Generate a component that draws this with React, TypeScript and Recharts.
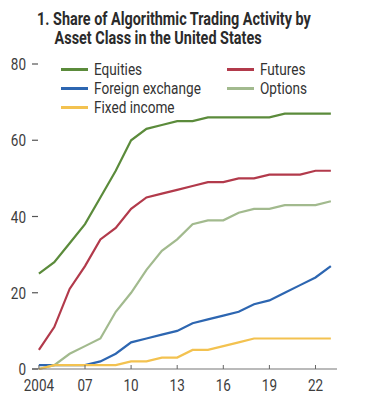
import { LineChart, Line, XAxis, YAxis } from "recharts"

const years = [2004, 2005, 2006, 2007, 2008, 2009, 2010, 2011, 2012, 2013, 2014, 2015, 2016, 2017, 2018, 2019, 2020, 2021, 2022, 2023]
const equities = [25, 28, 33, 38, 45, 52, 60, 63, 64, 65, 65, 66, 66, 66, 66, 66, 67, 67, 67, 67]
const futures = [5, 11, 21, 27, 34, 37, 42, 45, 46, 47, 48, 49, 49, 50, 50, 51, 51, 51, 52, 52]
const foreignExchange = [1, 1, 1, 1, 2, 4, 7, 8, 9, 10, 12, 13, 14, 15, 17, 18, 20, 22, 24, 27]
const options = [0, 1, 4, 6, 8, 15, 20, 26, 31, 34, 38, 39, 39, 41, 42, 42, 43, 43, 43, 44]
const fixedIncome = [0, 1, 1, 1, 1, 1, 2, 2, 3, 3, 5, 5, 6, 7, 8, 8, 8, 8, 8, 8]

const xTicks = [2004, 2007, 2010, 2013, 2016, 2019, 2022]
const yTicks = [0, 20, 40, 60, 80]

const FONT = "Roboto, 'Noto Sans', sans-serif"
const SQUEEZE = 0.82

const series = [
  { key: "equities", name: "Equities", color: "#5b8b3b" },
  { key: "futures", name: "Futures", color: "#b23a4b" },
  { key: "fx", name: "Foreign exchange", color: "#2d66b1" },
  { key: "options", name: "Options", color: "#a2ba8e" },
  { key: "fixed", name: "Fixed income", color: "#f3c250" },
]

const data = years.map((y, i) => ({
  year: y,
  equities: equities[i],
  futures: futures[i],
  fx: foreignExchange[i],
  options: options[i],
  fixed: fixedIncome[i],
}))

function xLabel(v: number) {
  return v === 2004 ? "2004" : String(v % 100).padStart(2, "0")
}

function XTick(props: any) {
  const { x, y, payload } = props
  return (
    <g>
      <line x1={x} x2={x} y1={y} y2={y - 4} stroke="#666" strokeWidth={1} />
      <text
        transform={`translate(${x},${y + 22}) scale(${SQUEEZE},1)`}
        textAnchor="middle"
        fill="#3d3d3d"
        fontSize={16.5}
        fontFamily={FONT}
      >
        {xLabel(payload.value)}
      </text>
    </g>
  )
}

function LeftTick(props: any) {
  const { x, y, payload } = props
  return (
    <g>
      <text
        transform={`translate(${x - 6},${y + 6}) scale(${SQUEEZE},1)`}
        textAnchor="end"
        fill="#3d3d3d"
        fontSize={16.5}
        fontFamily={FONT}
      >
        {payload.value}
      </text>
      <line x1={x} x2={x + 6} y1={y} y2={y} stroke="#555" strokeWidth={1.2} />
    </g>
  )
}

function RightTick(props: any) {
  const { x, y } = props
  return (
    <g>
      <line x1={x - 6} x2={x} y1={y} y2={y} stroke="#555" strokeWidth={1.2} />
      <line x1={x + 32} x2={x + 37} y1={y} y2={y} stroke="#777" strokeWidth={1.2} />
    </g>
  )
}

function LegendItem({ s, left, top }: { s: (typeof series)[number]; left: number; top: number }) {
  return (
    <div style={{ position: "absolute", left, top, height: 19, display: "flex", alignItems: "center" }}>
      <div style={{ width: 27, height: 2.5, background: s.color }} />
      <div
        style={{
          marginLeft: 6,
          transform: "scaleX(0.85)",
          transformOrigin: "left center",
          whiteSpace: "nowrap",
        }}
      >
        {s.name}
      </div>
    </div>
  )
}

export default function App() {
  return (
    <div style={{ position: "absolute", left: 0, top: 0, width: 375, height: 410, background: "#fff" }}>
      <div
        style={{
          position: "absolute",
          left: 37,
          top: 9,
          fontFamily: FONT,
          fontWeight: 700,
          fontSize: 18,
          lineHeight: "19px",
          color: "#2b2b2b",
          whiteSpace: "nowrap",
          transform: "scaleX(0.8)",
          transformOrigin: "left top",
        }}
      >
        <div>1. Share of Algorithmic Trading Activity by</div>
        <div style={{ marginLeft: 22 }}>Asset Class in the United States</div>
      </div>
      <LineChart width={375} height={410} data={data} margin={{ top: 64, right: 0, bottom: 11, left: 0 }}>
        <XAxis
          dataKey="year"
          type="number"
          domain={[2003.55, 2023.4]}
          ticks={xTicks}
          interval={0}
          height={30}
          tickSize={0}
          tickMargin={0}
          tickLine={false}
          axisLine={{ stroke: "#777", strokeWidth: 1.2 }}
          tick={<XTick />}
        />
        <YAxis
          yAxisId="left"
          domain={[0, 80]}
          ticks={yTicks}
          width={32}
          tickSize={0}
          tickMargin={0}
          tickLine={false}
          axisLine={false}
          tick={<LeftTick />}
        />
        <YAxis
          yAxisId="right"
          orientation="right"
          domain={[0, 80]}
          ticks={yTicks}
          width={38}
          tickSize={0}
          tickMargin={0}
          tickLine={false}
          axisLine={false}
          tick={<RightTick />}
        />
        {series.map((s) => (
          <Line
            key={s.key}
            yAxisId="left"
            type="linear"
            dataKey={s.key}
            name={s.name}
            stroke={s.color}
            strokeWidth={2.2}
            dot={false}
            isAnimationActive={false}
          />
        ))}
      </LineChart>
      <div style={{ position: "absolute", left: 0, top: 0, fontFamily: FONT, fontSize: 16, color: "#333" }}>
        <LegendItem s={series[0]} left={61} top={60} />
        <LegendItem s={series[2]} left={61} top={79} />
        <LegendItem s={series[4]} left={61} top={98} />
        <LegendItem s={series[1]} left={227} top={60} />
        <LegendItem s={series[3]} left={227} top={79} />
      </div>
    </div>
  )
}
